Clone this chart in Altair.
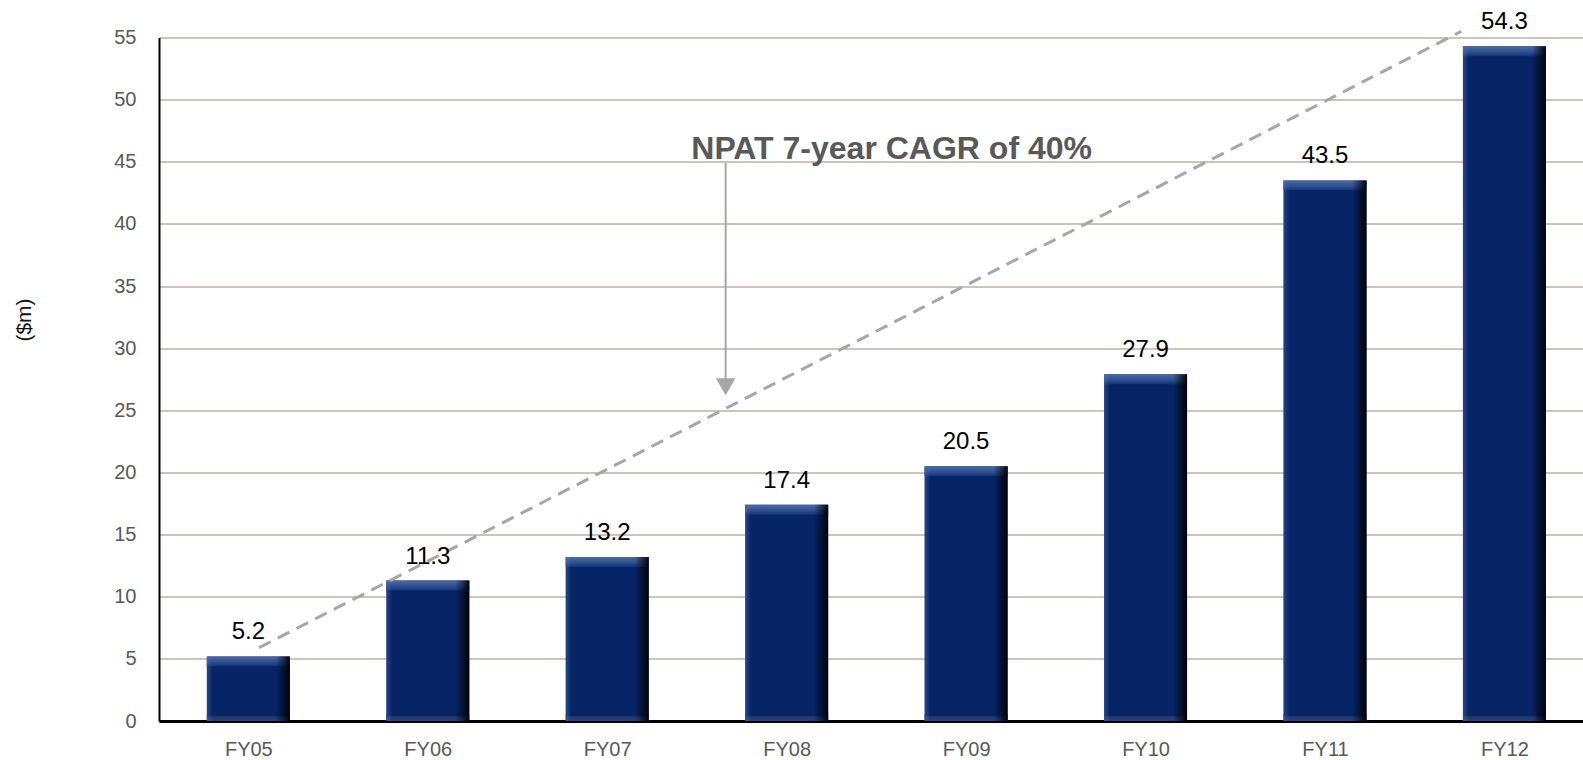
import altair as alt
import pandas as pd

# NPAT by financial year ($m)
years = ["FY05", "FY06", "FY07", "FY08", "FY09", "FY10", "FY11", "FY12"]
npat = [5.2, 11.3, 13.2, 17.4, 20.5, 27.9, 43.5, 54.3]

# dashed growth guide (year index, $m)
trend_x = [0.06, 6.76]
trend_y = [5.9, 55.5]

# callout text and its arrow (year index, $m)
callout_text = ["NPAT 7-year CAGR of 40%"]
callout_x = [3.585]
callout_y = [45.2]
arrow_x = [2.66]
arrow_top = [44.9]
arrow_tip = [26.9]

FONT = "Liberation Sans"

bars = pd.DataFrame({"idx": list(range(len(years))), "year": years, "value": npat})
trend = pd.DataFrame({"x": trend_x, "y": trend_y})
callout = pd.DataFrame({"x": callout_x, "y": callout_y, "text": callout_text})
arrow = pd.DataFrame({"x": arrow_x, "top": arrow_top, "tip": arrow_tip})

label_expr = "[" + ",".join(f"'{y}'" for y in years) + "][datum.value]"

x_scale = alt.Scale(domain=[-0.47, 7.41], nice=False, zero=False)
y_scale = alt.Scale(domain=[0, 55], nice=False)

x_enc = alt.X(
    "idx:Q",
    scale=x_scale,
    axis=alt.Axis(
        values=list(range(len(years))),
        labelExpr=label_expr,
        title=None,
        grid=False,
        ticks=False,
        domainColor="#000000",
        domainWidth=3,
        labelColor="#595959",
        labelFont=FONT,
        labelFontSize=20,
        labelPadding=18,
    ),
)
y_enc = alt.Y(
    "value:Q",
    scale=y_scale,
    axis=alt.Axis(
        values=list(range(0, 56, 5)),
        title="($m)",
        titleFont=FONT,
        titleFontSize=21,
        titleFontWeight="normal",
        titleColor="#111111",
        titleAngle=-90,
        titleX=-135,
        titleY=282,
        titleAlign="center",
        titleBaseline="middle",
        grid=True,
        gridColor="#cbc4bc",
        gridWidth=2,
        ticks=False,
        domainColor="#000000",
        domainWidth=2,
        labelColor="#595959",
        labelFont=FONT,
        labelFontSize=20,
        labelPadding=23,
    ),
)

base = alt.Chart(bars)
BAR_W = 83

body = base.mark_bar(size=BAR_W, color="#062466").encode(x=x_enc, y=y_enc)

# lighter bevelled strip along the top of each bar
top_bevel = base.transform_calculate(lo="datum.value - 0.8").mark_bar(
    size=BAR_W,
    color=alt.LinearGradient(
        gradient="linear",
        stops=[
            alt.GradientStop(color="#4a6aa8", offset=0),
            alt.GradientStop(color="#30508e", offset=0.55),
            alt.GradientStop(color="#13347a", offset=1),
        ],
        x1=0, x2=0, y1=0, y2=1,
    ),
).encode(x=alt.X("idx:Q", scale=x_scale), y=alt.Y("value:Q", scale=y_scale), y2="lo:Q")

# slightly lighter strip along the base
bottom_bevel = base.transform_calculate(lo="0", hi="0.55").mark_bar(
    size=BAR_W,
    color=alt.LinearGradient(
        gradient="linear",
        stops=[
            alt.GradientStop(color="#081c50", offset=0),
            alt.GradientStop(color="#1d3a7a", offset=0.45),
            alt.GradientStop(color="#24427f", offset=1),
        ],
        x1=0, x2=0, y1=0, y2=1,
    ),
).encode(x=alt.X("idx:Q", scale=x_scale), y=alt.Y("hi:Q", scale=y_scale), y2="lo:Q")

# light left edge and dark right edge
edge_shade = base.mark_bar(
    size=BAR_W,
    color=alt.LinearGradient(
        gradient="linear",
        stops=[
            alt.GradientStop(color="rgba(90,120,190,0.4)", offset=0),
            alt.GradientStop(color="rgba(90,120,190,0)", offset=0.07),
            alt.GradientStop(color="rgba(0,0,0,0)", offset=0.83),
            alt.GradientStop(color="rgba(0,0,0,0.55)", offset=0.93),
            alt.GradientStop(color="rgba(0,0,0,0.95)", offset=1),
        ],
        x1=0, x2=1, y1=0, y2=0,
    ),
).encode(x=alt.X("idx:Q", scale=x_scale), y=alt.Y("value:Q", scale=y_scale))

values_text = base.mark_text(
    font=FONT, fontSize=24, color="#000000", baseline="alphabetic", dy=-17
).encode(
    x=alt.X("idx:Q", scale=x_scale),
    y=alt.Y("value:Q", scale=y_scale),
    text=alt.Text("value:Q", format=".1f"),
)

trend_line = alt.Chart(trend).mark_line(
    color="#a6a6a6", strokeWidth=3, strokeDash=[13, 8], clip=False
).encode(x=alt.X("x:Q", scale=x_scale), y=alt.Y("y:Q", scale=y_scale))

arrow_shaft = alt.Chart(arrow).mark_rule(color="#a6a6a6", strokeWidth=2).encode(
    x=alt.X("x:Q", scale=x_scale),
    y=alt.Y("top:Q", scale=y_scale),
    y2="tip:Q",
)
arrow_head = alt.Chart(arrow).mark_point(
    shape="triangle-down", filled=True, color="#a6a6a6", size=380, opacity=1
).encode(x=alt.X("x:Q", scale=x_scale), y=alt.Y("tip:Q", scale=y_scale))

callout_label = alt.Chart(callout).mark_text(
    font=FONT, fontSize=32, fontWeight="bold", color="#595959", baseline="alphabetic"
).encode(
    x=alt.X("x:Q", scale=x_scale),
    y=alt.Y("y:Q", scale=y_scale),
    text="text:N",
)

chart = (
    alt.layer(
        body, top_bevel, bottom_bevel, edge_shade,
        trend_line, arrow_shaft, arrow_head, values_text, callout_label,
    )
    .properties(
        width=1424,
        height=683.5,
        autosize=alt.AutoSizeParams(type="none"),
        padding={"left": 159, "top": 37.5, "right": 0, "bottom": 38},
        background="#ffffff",
    )
    .configure_view(stroke=None)
)

chart.save("out.html", embed_options={"renderer": "svg", "actions": False})
